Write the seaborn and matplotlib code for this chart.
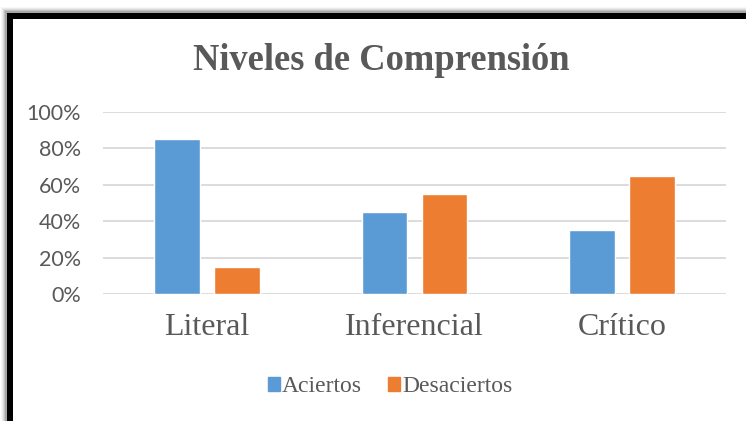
import matplotlib
matplotlib.use('Agg')
import matplotlib.pyplot as plt
import matplotlib.patches as mpatches
import pandas as pd
import seaborn as sns

niveles = ['Literal', 'Inferencial', 'Crítico']
aciertos = [0.85, 0.45, 0.35]
desaciertos = [0.15, 0.55, 0.65]
yticks = [0, 0.2, 0.4, 0.6, 0.8, 1.0]
ytick_labels = ['0%', '20%', '40%', '60%', '80%', '100%']

data = pd.DataFrame({'nivel': niveles * 2,
                     'valor': aciertos + desaciertos,
                     'serie': ['Aciertos'] * 3 + ['Desaciertos'] * 3})

sns.set_style('white')
gray = '#595959'
colors = {'Aciertos': '#5B9BD5', 'Desaciertos': '#ED7D31'}

fig = plt.figure(figsize = (7.46, 4.21), dpi = 100)
W, H = 746, 421

# frame with a soft shadow
for i, a in enumerate([0.03, 0.05, 0.07, 0.1, 0.14]):
    off = 6 - i
    fig.patches.append(mpatches.Rectangle(((7 - off) / W, 0), 1, (H - 13 + off) / H,
                                          transform = fig.transFigure, color = 'black',
                                          alpha = a, lw = 0, zorder = 0))
fig.patches.append(mpatches.Rectangle((7 / W, 0), 1, (H - 13) / H, transform = fig.transFigure,
                                      color = 'black', lw = 0, zorder = 1))
fig.patches.append(mpatches.Rectangle((12.5 / W, 0), 1, (H - 18.5) / H, transform = fig.transFigure,
                                      color = 'white', lw = 0, zorder = 2))

ax = fig.add_axes([103 / W, 1 - 294 / H, 623 / W, 182 / H])
ax.set_zorder(3)
ax.patch.set_alpha(0)
sns.barplot(x = 'nivel', y = 'valor', hue = 'serie', data = data, palette = colors,
            width = 0.578, gap = 0.234, saturation = 1, ax = ax, legend = False, zorder = 3)

ax.set_ylim(0, 1)
ax.set_xlim(-0.5, 2.5)
ax.set_yticks(yticks)
ax.set_yticklabels(ytick_labels, fontfamily = 'Lato', fontsize = 15.5, color = gray)
ax.set_xticks(range(3))
ax.set_xticklabels(niveles, fontfamily = 'Liberation Serif', fontsize = 23, color = gray)
ax.tick_params(axis = 'y', length = 0, pad = 16)
ax.tick_params(axis = 'x', length = 0, pad = 14)
ax.yaxis.grid(True, color = '#D9D9D9', lw = 1.3)
ax.set_axisbelow(True)
for s in ax.spines.values():
    s.set_visible(False)
ax.set_xlabel('')
ax.set_ylabel('')

fig.text(381 / W, 1 - 60 / H, 'Niveles de Comprensión', ha = 'center', va = 'center',
         fontfamily = 'Liberation Serif', fontweight = 'bold', fontsize = 26.3, color = gray)

handles = [mpatches.Patch(color = colors[k]) for k in ['Aciertos', 'Desaciertos']]
leg = fig.legend(handles, ['Aciertos', 'Desaciertos'], loc = 'center', ncol = 2,
                 bbox_to_anchor = (390 / W, 1 - 387 / H), frameon = False,
                 prop = {'family': 'Liberation Serif', 'size': 17},
                 handlelength = 0.5, handleheight = 0.5, handletextpad = 0.1, columnspacing = 1.1)
for t in leg.get_texts():
    t.set_color(gray)

plt.savefig('out.png', dpi = 100)
